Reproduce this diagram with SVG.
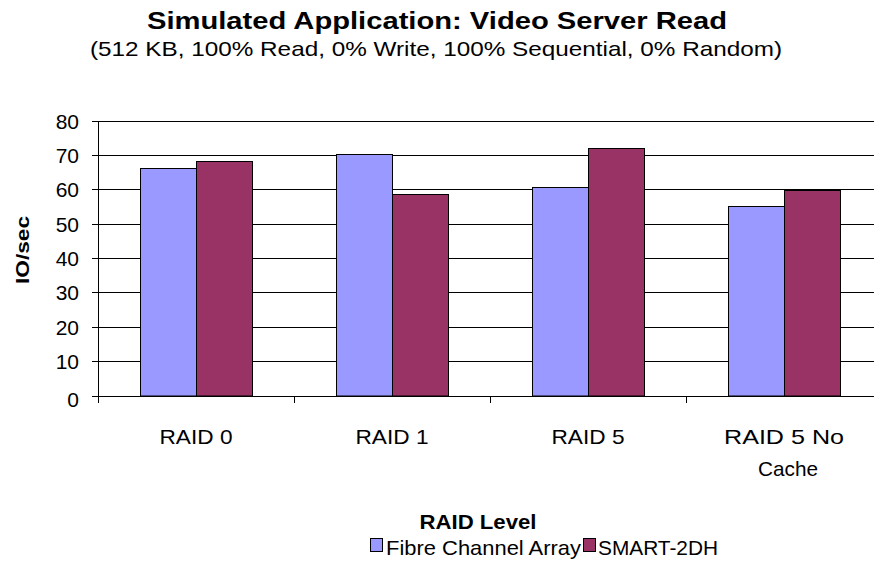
<svg xmlns="http://www.w3.org/2000/svg" width="874" height="588" viewBox="0 0 874 588">
  <style>
    text { font-family: "Liberation Sans", Arial, sans-serif; fill: #000; }
    .title { font-size: 23px; font-weight: bold; text-anchor: middle; }
    .sub { font-size: 21px; text-anchor: middle; }
    .ylab { font-size: 21px; text-anchor: end; }
    .cat { font-size: 21px; text-anchor: middle; }
    .axt { font-size: 21px; font-weight: bold; text-anchor: middle; }
    .leg { font-size: 21px; }
    .grid { stroke: #000; stroke-width: 1; }
    .axis { stroke: #000; stroke-width: 1; fill: none; }
    .fc { fill: #9999FF; stroke: #000; stroke-width: 1; }
    .sm { fill: #993366; stroke: #000; stroke-width: 1; }
  </style>

  <rect width="874" height="588" fill="#fff"/>

  <!-- titles -->
  <text class="title" x="437" y="29" textLength="580" lengthAdjust="spacingAndGlyphs">Simulated Application:  Video Server Read</text>
  <text class="sub" x="436" y="56" textLength="692" lengthAdjust="spacingAndGlyphs">(512 KB, 100% Read, 0% Write, 100% Sequential, 0% Random)</text>

  <!-- gridlines -->
  <g id="gridlines">
    <line class="grid" x1="98" y1="121.5" x2="874" y2="121.5"/>
    <line class="grid" x1="98" y1="155.5" x2="874" y2="155.5"/>
    <line class="grid" x1="98" y1="189.5" x2="874" y2="189.5"/>
    <line class="grid" x1="98" y1="224.5" x2="874" y2="224.5"/>
    <line class="grid" x1="98" y1="258.5" x2="874" y2="258.5"/>
    <line class="grid" x1="98" y1="292.5" x2="874" y2="292.5"/>
    <line class="grid" x1="98" y1="327.5" x2="874" y2="327.5"/>
    <line class="grid" x1="98" y1="361.5" x2="874" y2="361.5"/>
  </g>

  <!-- bars -->
  <g id="raid0">
    <rect class="fc" x="140.5" y="168.5" width="56" height="227.5"/>
    <rect class="sm" x="196.5" y="161.5" width="56" height="234.5"/>
  </g>
  <g id="raid1">
    <rect class="fc" x="336.5" y="154.5" width="56" height="241.5"/>
    <rect class="sm" x="392.5" y="194.5" width="56" height="201.5"/>
  </g>
  <g id="raid5">
    <rect class="fc" x="532.5" y="187.5" width="56" height="208.5"/>
    <rect class="sm" x="588.5" y="148.5" width="56" height="247.5"/>
  </g>
  <g id="raid5nocache">
    <rect class="fc" x="728.5" y="206.5" width="56" height="189.5"/>
    <rect class="sm" x="784.5" y="190.5" width="56" height="205.5"/>
  </g>

  <!-- axes and ticks -->
  <g id="axes">
    <line class="axis" x1="98.5" y1="121" x2="98.5" y2="403"/>
    <line class="axis" x1="98" y1="396.5" x2="874" y2="396.5"/>
    <path class="axis" d="M92 121.5H98 M92 155.5H98 M92 189.5H98 M92 224.5H98 M92 258.5H98 M92 292.5H98 M92 327.5H98 M92 361.5H98 M92 396.5H98"/>
    <path class="axis" d="M294.5 396V403 M490.5 396V403 M686.5 396V403"/>
  </g>

  <!-- value labels -->
  <g id="yaxis-labels">
    <text class="ylab" x="79" y="129">80</text>
    <text class="ylab" x="79" y="163">70</text>
    <text class="ylab" x="79" y="197">60</text>
    <text class="ylab" x="79" y="232">50</text>
    <text class="ylab" x="79" y="266">40</text>
    <text class="ylab" x="79" y="300">30</text>
    <text class="ylab" x="79" y="335">20</text>
    <text class="ylab" x="79" y="369">10</text>
    <text class="ylab" x="79" y="407">0</text>
  </g>
  <text class="axt" style="font-size:18px" textLength="68" lengthAdjust="spacingAndGlyphs" transform="translate(29 250) rotate(-90)">IO/sec</text>

  <!-- category labels -->
  <g id="xaxis-labels">
    <text class="cat" x="196" y="444" textLength="73" lengthAdjust="spacingAndGlyphs">RAID 0</text>
    <text class="cat" x="392" y="444" textLength="73" lengthAdjust="spacingAndGlyphs">RAID 1</text>
    <text class="cat" x="588" y="444" textLength="73" lengthAdjust="spacingAndGlyphs">RAID 5</text>
    <text class="cat" x="784" y="444" textLength="120" lengthAdjust="spacingAndGlyphs">RAID 5 No</text>
    <text class="cat" x="788" y="476" textLength="60" lengthAdjust="spacingAndGlyphs">Cache</text>
  </g>
  <text class="axt" x="478" y="529" textLength="117" lengthAdjust="spacingAndGlyphs">RAID Level</text>

  <!-- legend -->
  <g id="legend">
    <rect class="fc" x="370.5" y="538.5" width="12" height="13"/>
    <text class="leg" x="386" y="555" textLength="195" lengthAdjust="spacingAndGlyphs">Fibre Channel Array</text>
    <rect class="sm" x="583.5" y="538.5" width="12" height="13"/>
    <text class="leg" x="598" y="555" textLength="120" lengthAdjust="spacingAndGlyphs">SMART-2DH</text>
  </g>
</svg>
